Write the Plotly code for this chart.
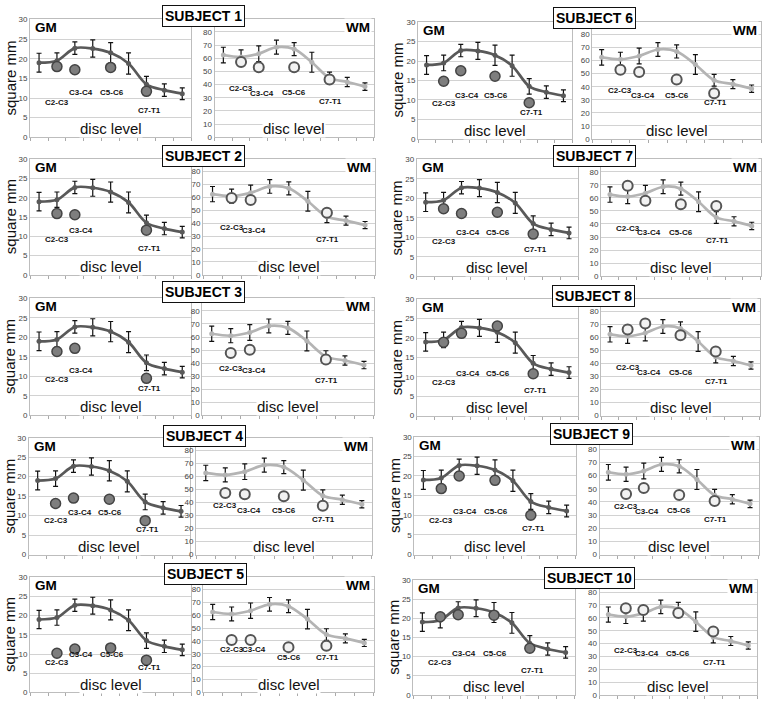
import plotly.graph_objects as go

W, H = 765, 705

# ---------------- data ----------------
positions = [1, 2, 3, 4, 5, 6, 7, 8, 9]
gm_norm = [19.0, 19.5, 22.7, 22.6, 21.5, 18.8, 13.5, 12.0, 11.1]
gm_err = [2.4, 2.0, 1.6, 2.2, 2.6, 2.7, 2.0, 1.6, 1.5]
wm_norm = [62.5, 61.0, 63.5, 68.5, 67.0, 57.0, 45.0, 42.0, 38.5]
wm_err = [5.9, 5.4, 6.0, 5.3, 5.0, 7.6, 4.5, 3.5, 2.8]

levels = ["C2-C3", "C3-C4", "C5-C6", "C7-T1"]
level_pos = [2, 3, 5, 7]

subjects = ["SUBJECT 1", "SUBJECT 2", "SUBJECT 3", "SUBJECT 4", "SUBJECT 5",
            "SUBJECT 6", "SUBJECT 7", "SUBJECT 8", "SUBJECT 9", "SUBJECT 10"]

gm_subject = [
    [18.0, 17.2, 17.8, 11.7],
    [15.9, 15.6, None, 11.6],
    [16.4, 17.2, None, 9.5],
    [13.1, 14.5, 14.2, 8.7],
    [10.2, 11.3, 11.6, 8.4],
    [14.8, 17.5, 16.1, 9.3],
    [17.3, 16.1, 16.4, 10.8],
    [18.9, 21.2, 23.1, 10.8],
    [16.8, 20.0, 18.9, 10.0],
    [20.4, 20.9, 20.8, 12.2],
]
wm_subject = [
    [57.2, 53.2, 53.2, 43.9],
    [59.5, 58.0, None, 48.0],
    [47.7, 50.3, None, 42.8],
    [47.2, 46.2, 44.7, 37.4],
    [40.8, 40.8, 35.2, 36.2],
    [53.0, 51.3, 45.5, 35.0],
    [69.2, 57.7, 55.0, 53.7],
    [66.3, 70.8, 61.8, 49.3],
    [46.0, 50.5, 45.2, 40.6],
    [67.5, 66.0, 63.8, 49.3],
]

gm_label_x = [2.0, 3.35, 5.05, 7.15]
wm_label_x = [2.0, 3.2, 5.0, 7.05]
gm_label_y = [
    [8.8, 11.3, 11.3, 6.9],
    [9.2, 11.5, 11.3, 6.9],
    [9.1, 11.6, 11.3, 7.0],
    [8.7, 10.8, 10.8, 6.5],
    [7.9, 10.0, 9.8, 6.6],
    [9.1, 11.2, 11.2, 6.9],
    [9.0, 11.1, 11.1, 6.9],
    [8.6, 10.8, 10.8, 6.6],
    [8.75, 11.0, 11.0, 6.7],
    [8.4, 10.9, 10.9, 6.4],
]
wm_label_y = [
    [37.1, 33.3, 33.9, 26.9],
    [37.0, 34.5, 33.3, 27.0],
    [36.1, 34.0, 33.3, 26.5],
    [37.2, 33.4, 33.4, 27.0],
    [33.6, 33.6, 27.5, 27.5],
    [37.2, 33.5, 33.5, 27.9],
    [36.5, 33.3, 33.3, 27.5],
    [36.8, 33.0, 33.0, 26.5],
    [36.8, 33.0, 33.3, 26.8],
    [34.4, 32.0, 32.0, 25.0],
]

gm_ticks = [0, 5, 10, 15, 20, 25, 30]
wm_ticks = [0, 10, 20, 30, 40, 50, 60, 70, 80]

# ---------------- layout geometry (pixels) ----------------
gm_x = [(30.1, 191.2), (30.1, 191.2), (30.1, 191.2), (28.7, 190.0), (30.1, 191.2),
        (418.0, 572.0), (416.7, 578.0), (416.7, 578.0), (414.4, 575.6), (413.4, 574.6)]
wm_x = [(214.5, 373.8), (203.0, 374.6), (202.2, 373.5), (196.0, 371.6), (203.2, 373.8),
        (592.3, 761.0), (601.1, 760.6), (601.2, 759.8), (599.5, 758.9), (599.6, 757.0)]
panel_y = [(15.7, 135.0), (157.3, 274.3), (298.3, 416.7), (439.3, 557.7), (580.7, 697.3),
           (18.3, 136.7), (157.3, 275.7), (299.0, 417.0), (438.3, 557.7), (583.3, 700.0)]
box_c = [(203.5, 12.5), (203.7, 154.0), (203.7, 291.7), (204.7, 437.5), (205.0, 577.0),
         (594.7, 14.5), (594.3, 154.0), (593.0, 295.5), (591.0, 436.0), (589.3, 581.7)]
WM_TOP = 89.5

FONT = "Arial, Liberation Sans, sans-serif"
GM_LINE = "#595959"
WM_LINE = "#b4b4b4"


def px(x):
    return x / W


def py(y):
    return 1 - y / H


fig = go.Figure()
annotations = []
layout = {}

for i in range(10):
    for k, kind in enumerate(["GM", "WM"]):
        n = 2 * i + k + 1
        xa = "x" if n == 1 else f"x{n}"
        ya = "y" if n == 1 else f"y{n}"
        xkey = "xaxis" if n == 1 else f"xaxis{n}"
        ykey = "yaxis" if n == 1 else f"yaxis{n}"
        xdom = gm_x[i] if kind == "GM" else wm_x[i]
        top, bot = panel_y[i]
        if kind == "GM":
            norm, err, col = gm_norm, gm_err, GM_LINE
            subj = gm_subject[i]
            lab_x, lab_y = gm_label_x, gm_label_y[i]
            yr, ticks = [0, 30], gm_ticks
        else:
            norm, err, col = wm_norm, wm_err, WM_LINE
            subj = wm_subject[i]
            lab_x, lab_y = wm_label_x, wm_label_y[i]
            yr, ticks = [0, WM_TOP], wm_ticks

        fig.add_trace(go.Scatter(
            x=positions, y=norm, mode="lines+markers", xaxis=xa, yaxis=ya,
            line=dict(color=col, width=2.7, shape="spline", smoothing=0.9),
            marker=dict(color=col, size=5),
            error_y=dict(type="data", array=err, color="#111111", thickness=1.2, width=2.5),
            showlegend=False, hoverinfo="skip"))

        sx = [p for p, v in zip(level_pos, subj) if v is not None]
        sy = [v for v in subj if v is not None]
        if kind == "GM":
            mk = dict(size=10, color="#7e7e7e", line=dict(color="#444444", width=1.5))
        else:
            mk = dict(size=10, color="#f2f2f2", line=dict(color="#555555", width=2))
        fig.add_trace(go.Scatter(x=sx, y=sy, mode="markers", xaxis=xa, yaxis=ya,
                                 marker=mk, showlegend=False, hoverinfo="skip"))

        for j, (lab, v) in enumerate(zip(levels, subj)):
            if v is None:
                continue
            annotations.append(dict(
                x=lab_x[j], y=lab_y[j], xref=xa, yref=ya, text=f"<b>{lab}</b>",
                showarrow=False, font=dict(family=FONT, size=8, color="#111111"),
                xanchor="center", yanchor="middle"))

        layout[xkey] = dict(
            domain=[px(xdom[0]), px(xdom[1])], anchor=ya, range=[0.5, 9.5],
            showgrid=False, zeroline=False, showticklabels=False,
            tickmode="array", tickvals=[p + 0.5 for p in range(0, 10)],
            ticks="outside", ticklen=3, tickcolor="#aaaaaa",
            showline=True, linecolor="#bdbdbd", linewidth=1, mirror=True,
            fixedrange=True)
        layout[ykey] = dict(
            domain=[py(bot), py(top)], anchor=xa, range=yr,
            tickmode="array", tickvals=ticks, ticks="",
            tickfont=dict(family=FONT, size=8, color="#444444"),
            showgrid=True, gridcolor="#d2d2d2", gridwidth=1, zeroline=False,
            showline=True, linecolor="#bdbdbd", linewidth=1, mirror=True,
            fixedrange=True)

        # disc level
        annotations.append(dict(
            x=px((xdom[0] + xdom[1]) / 2), y=py(bot - 8.5), xref="paper", yref="paper",
            text="disc level", showarrow=False, bgcolor="white", borderpad=0,
            font=dict(family=FONT, size=15, color="#111111"),
            xanchor="center", yanchor="middle"))

    # GM / WM tags
    annotations.append(dict(
        x=px(gm_x[i][0] + 3), y=py(panel_y[i][0] + 8.5), xref="paper", yref="paper",
        text="<b>GM</b>", showarrow=False, font=dict(family=FONT, size=13.5, color="black"),
        xanchor="left", yanchor="middle"))
    annotations.append(dict(
        x=px(wm_x[i][1] - 2), y=py(panel_y[i][0] + 8.5), xref="paper", yref="paper",
        text="<b>WM</b>", showarrow=False, bgcolor="white", borderpad=1,
        font=dict(family=FONT, size=13.5, color="black"),
        xanchor="right", yanchor="middle"))
    # y title
    annotations.append(dict(
        x=px(gm_x[i][0] - 20), y=py((panel_y[i][0] + panel_y[i][1]) / 2),
        xref="paper", yref="paper", text="square mm", textangle=-90, showarrow=False,
        font=dict(family=FONT, size=15, color="#111111"),
        xanchor="center", yanchor="middle"))
    # subject box
    annotations.append(dict(
        x=px(box_c[i][0]), y=py(box_c[i][1]), xref="paper", yref="paper",
        text=f"<b>{subjects[i]}</b>", showarrow=False, bgcolor="white",
        bordercolor="#111111", borderwidth=1, borderpad=2,
        font=dict(family=FONT, size=14, color="black"),
        xanchor="center", yanchor="middle"))

fig.update_layout(
    width=W, height=H, margin=dict(l=0, r=0, t=0, b=0),
    paper_bgcolor="white", plot_bgcolor="white",
    annotations=annotations, showlegend=False, **layout)

fig.write_html(
    "out.html",
    config={"displayModeBar": False},
    post_script="document.body.style.margin='0';document.body.style.overflow='hidden';")
